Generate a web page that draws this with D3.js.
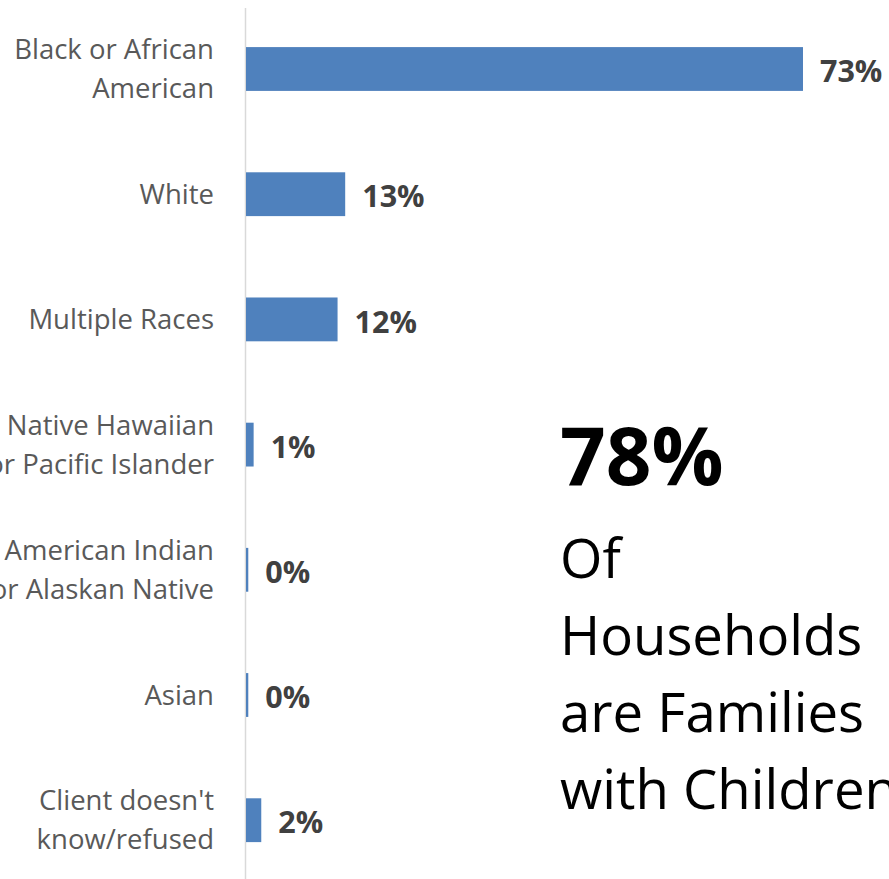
<!DOCTYPE html>
<html><head><meta charset="utf-8">
<script src="https://cdn.jsdelivr.net/npm/d3@7"></script>
<style>html,body{margin:0;padding:0;background:#fff;overflow:hidden}</style>
</head><body>
<svg id="chart" width="889" height="879"></svg>
<script>
const categories = [
  ["Black or African", "American"],
  ["White"],
  ["Multiple Races"],
  ["Native Hawaiian", "or Pacific Islander"],
  ["American Indian", "or Alaskan Native"],
  ["Asian"],
  ["Client doesn't", "know/refused"]
];
const values = [73, 13, 12, 1, 0.3, 0.3, 2];
const calloutValue = "78%";
const calloutLines = ["Of", "Households", "are Families", "with Children"];

const svg = d3.select("#chart");
const keys = categories.map(c => c.join(" "));
const x = d3.scaleLinear().domain([0, 100]).range([246, 1009]);
const y = d3.scaleBand().domain(keys).range([6.4, 882.8]).paddingInner(0.65).paddingOuter(0.325);

svg.append("line").attr("x1", 245.5).attr("x2", 245.5).attr("y1", 8).attr("y2", 879)
  .attr("stroke", "#d9d9d9").attr("stroke-width", 1.5);

svg.selectAll("rect.bar").data(values).join("rect").attr("class", "bar")
  .attr("x", x(0)).attr("y", (d, i) => y(keys[i]))
  .attr("width", d => x(d) - x(0)).attr("height", y.bandwidth())
  .attr("fill", "#4f81bd");

svg.selectAll("text.val").data(values).join("text").attr("class", "val")
  .attr("x", d => x(d) + 17).attr("y", (d, i) => y(keys[i]) + y.bandwidth() / 2)
  .attr("dy", "0.43em")
  .attr("font-family", "'Open Sans', sans-serif").attr("font-weight", "bold")
  .attr("font-size", 30.5).attr("fill", "#404040")
  .text(d => Math.round(d) + "%");

const lbl = svg.selectAll("text.cat").data(categories).join("text").attr("class", "cat")
  .attr("font-family", "'Open Sans', sans-serif").attr("font-size", 27.5).attr("fill", "#595959")
  .attr("text-anchor", "end");
lbl.each(function(lines, i) {
  const cy = y(keys[i]) + y.bandwidth() / 2;
  const lh = 39;
  const start = cy - (lines.length - 1) * lh / 2;
  d3.select(this).selectAll("tspan").data(lines).join("tspan")
    .attr("x", 214).attr("y", (d, j) => start + j * lh).attr("dy", "0.35em").text(d => d);
});

svg.append("text").attr("x", 560).attr("y", 485)
  .attr("font-family", "'Open Sans', sans-serif").attr("font-weight", "bold")
  .attr("font-size", 80).attr("fill", "#000").text(calloutValue);
svg.append("text").selectAll("tspan").data(calloutLines).join("tspan")
  .attr("x", 560).attr("y", (d, i) => 578 + i * 77)
  .attr("font-family", "'Open Sans', sans-serif").attr("font-size", 54.5).attr("fill", "#000")
  .text(d => d);
</script>
</body></html>
